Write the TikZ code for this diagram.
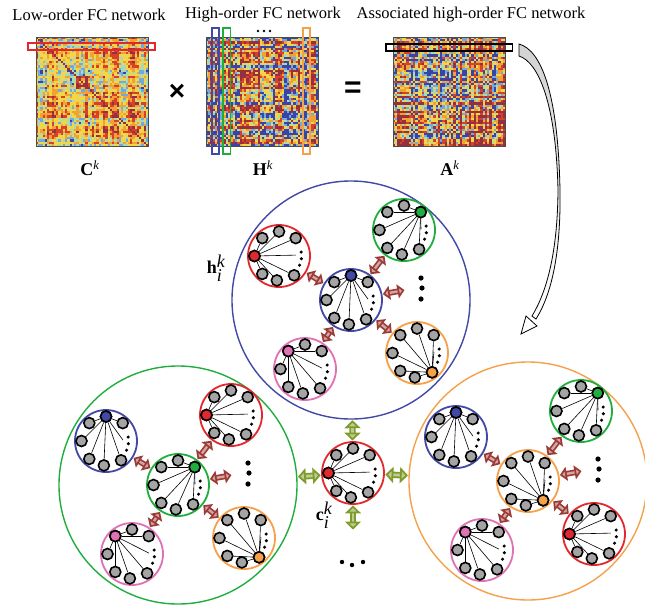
\documentclass[tikz,border=0pt]{standalone}
\usepackage{fontspec}
\setmainfont{Liberation Serif}
\setsansfont{Liberation Sans}
\usepackage{tikz}
\usetikzlibrary{arrows.meta, calc}

% ring colours
\definecolor{netred}{HTML}{E2282C}
\definecolor{netblue}{HTML}{4248A6}
\definecolor{netgreen}{HTML}{1FAE3E}
\definecolor{netpink}{HTML}{DE72B4}
\definecolor{netorange}{HTML}{F6A04A}
\definecolor{unitgray}{HTML}{A4A4A4}
\definecolor{linkred}{HTML}{9C3A35}
\definecolor{linkgreen}{HTML}{7E9B2C}
% heat map colours, low to high
\definecolor{hmA}{HTML}{3A44A8}
\definecolor{hmB}{HTML}{6FA9DD}
\definecolor{hmC}{HTML}{A9D9B5}
\definecolor{hmD}{HTML}{F1D54A}
\definecolor{hmE}{HTML}{F2A233}
\definecolor{hmF}{HTML}{D9402A}
\definecolor{hmG}{HTML}{963040}

% angle of the hub unit for each ring colour
\def\hubred{180}
\def\hubblue{90}
\def\hubgreen{47}
\def\hubpink{133}
\def\huborange{308}

\tikzset{
  ring/.style={circle, inner sep=0pt, minimum size=62pt, line width=1.8pt},
  bigring/.style={circle, inner sep=0pt, minimum size=238pt, line width=1.4pt},
  unit/.style={circle, inner sep=0pt, minimum size=11pt, draw=black, line width=1.6pt, fill=unitgray},
  spoke/.style={black, line width=0.6pt},
  link/.style={draw=linkred, line width=1.7pt, double=linkred!45, double distance=2.4pt,
    {Triangle[length=7pt,width=14pt,fill=linkred!45]}-{Triangle[length=7pt,width=14pt,fill=linkred!45]},
    shorten <=0.5pt, shorten >=0.5pt},
  glink/.style={draw=linkgreen, line width=1.8pt, double=linkgreen!50, double distance=2.8pt,
    {Triangle[length=8pt,width=16pt,fill=linkgreen!50]}-{Triangle[length=8pt,width=16pt,fill=linkgreen!50]},
    shorten <=0.5pt, shorten >=0.5pt},
  title/.style={font=\fontsize{16.5}{18}\selectfont},
  mlabel/.style={font=\fontsize{18}{20}\selectfont},
  frame/.style={draw=gray!60!black, line width=0.6pt},
  pick/.style={line width=1.3pt},
}

% colour of one heat map cell
\newcommand{\hmpick}[1]{%
  \ifdim#1pt<0.15pt \def\hmc{hmA}\else
  \ifdim#1pt<0.27pt \def\hmc{hmB}\else
  \ifdim#1pt<0.37pt \def\hmc{hmC}\else
  \ifdim#1pt<0.52pt \def\hmc{hmD}\else
  \ifdim#1pt<0.64pt \def\hmc{hmE}\else
  \ifdim#1pt<0.77pt \def\hmc{hmF}\else
  \def\hmc{hmG}\fi\fi\fi\fi\fi\fi}

% FC matrix: #1,#2 top left, #3 seed, #4 level, #5 spread, #6 noise, #7 diagonal + block
\newcommand{\fcmatrix}[7]{%
  \begin{scope}
    \clip (#1,-#2) rectangle ++(112,-109);
    \pgfmathsetseed{#3}
    \foreach \i in {0,...,49}{\pgfmathsetmacro\rowval{rnd}\expandafter\xdef\csname fcrow\i\endcsname{\rowval}}
    \foreach \i in {0,...,49}{
      \foreach \j in {0,...,49}{
        \pgfmathsetmacro\hmval{#4+#5*((\csname fcrow\i\endcsname+\csname fcrow\j\endcsname)/2-0.5)+#6*(rnd-0.5)}
        \ifnum#7=1
          \ifnum\i>17 \ifnum\i<24 \ifnum\j>17 \ifnum\j<24 \pgfmathsetmacro\hmval{\hmval+0.35}\fi\fi\fi\fi
          \ifnum\i=\j \def\hmval{0.85}\fi
        \fi
        \hmpick{\hmval}
        \fill[\hmc] ({#1+\j*2.24},{-#2-\i*2.18}) rectangle ++(2.5,-2.5);
      }
    }
  \end{scope}
  \draw[frame] (#1,-#2) rectangle ++(112,-109);
}

% small network: #1 name, #2 position, #3 ring colour
\newcommand{\subnet}[3]{%
  \edef\hubangle{\csname hub#3\endcsname}
  \node[ring, draw=net#3] (#1) at (#2) {};
  \foreach \a in {47,90,133,180,227,265,308}
    \node[unit] (#1-\a) at ([shift={(\a:24.5)}]#1.center) {};
  \node[unit, fill=net#3] (#1-hub) at ([shift={(\hubangle:24.5)}]#1.center) {};
  \foreach \a in {47,90,133,180,227,265,308}{
    \ifnum\a=\hubangle\relax\else
      \draw[spoke] (#1-hub) -- (#1-\a);
    \fi}
  \coordinate (#1-end) at ([shift={(3:17)}]#1.center);
  \draw[spoke] (#1-hub) -- (#1-end);
  \foreach \a in {10,-7,-24}
    \fill ([shift={(\a:22.5)}]#1.center) circle (1.7);
}

% group of networks: #1 name, #2 centre, #3 middle, #4 upper left, #5 upper right, #6 lower right
\newcommand{\cluster}[6]{%
  \node[bigring, draw=net#3] (#1) at (#2) {};
  \subnet{#1m}{#1.center}{#3}
  \subnet{#1ul}{[shift={(-72,44)}]#1.center}{#4}
  \subnet{#1ur}{[shift={(53,70)}]#1.center}{#5}
  \subnet{#1ll}{[shift={(-46,-69)}]#1.center}{pink}
  \subnet{#1lr}{[shift={(66,-53)}]#1.center}{#6}
  \coordinate (#1far) at ([shift={(54,10)}]#1.center);
  \foreach \n in {ul,ur,ll,lr}
    \draw[link] (#1m) -- (#1\n);
  \draw[link] (#1m) -- (#1far);
  \foreach \dx/\dy in {70/22,71/12,70/1}
    \fill ([shift={(\dx,\dy)}]#1.center) circle (2.6);
}

\begin{document}
\begin{tikzpicture}[x=1pt, y=1pt]
  \useasboundingbox (0,0) rectangle (645,-606);

  % titles
  \node[title] (tlow) at (89,-15) {Low-order FC network};
  \node[title] (thigh) at (263,-15) {High-order FC network};
  \node[title] (tass) at (471,-15) {Associated high-order FC network};

  % matrices
  \fcmatrix{36}{37}{7}{0.48}{0.7}{0.3}{1}
  \fcmatrix{206}{37}{23}{0.42}{1.4}{0.45}{0}
  \fcmatrix{393}{37}{41}{0.47}{1.35}{0.4}{0}

  % selected rows and columns
  \draw[pick, netred] (28,-43) rectangle (155,-50);
  \draw[pick, netblue] (212,-28) rectangle (219,-154);
  \draw[pick, netgreen] (223,-28) rectangle (230.5,-154);
  \draw[pick, netorange] (303,-28) rectangle (310,-154);
  \draw[pick, black] (386,-44) rectangle (512.5,-51);
  \foreach \x in {258,264,270}
    \fill (\x,-31) circle (1.3);

  % operators and labels
  \node[font=\sffamily\bfseries\fontsize{28}{30}\selectfont] (times) at (177,-92) {×};
  \node[font=\sffamily\bfseries\fontsize{30}{32}\selectfont] (equals) at (353,-90) {=};
  \node[mlabel] (lC) at (90,-168) {\textbf{C}\textsuperscript{\textit{k}}};
  \node[mlabel] (lH) at (263,-168) {\textbf{H}\textsuperscript{\textit{k}}};
  \node[mlabel] (lA) at (450,-168) {\textbf{A}\textsuperscript{\textit{k}}};

  % curved arrow down to the networks
  \draw[line width=0.8pt, top color=gray!35, bottom color=white]
    (519,-44) .. controls (541,-50) and (558,-92) .. (560,-190)
    .. controls (561,-255) and (551,-295) .. (536,-319)
    -- (532,-316)
    .. controls (546,-293) and (557.5,-255) .. (558,-190)
    .. controls (556,-102) and (538,-62) .. (519,-56) -- cycle;
  \draw[line width=0.8pt, fill=white] (526,-316) -- (537,-326) -- (521,-334) -- cycle;

  % groups of networks
  \cluster{B}{351,-300}{blue}{red}{green}{orange}
  \cluster{G}{178,-485}{green}{blue}{red}{orange}
  \cluster{O}{528,-481}{orange}{blue}{green}{red}

  % centre network
  \subnet{ci}{353,-473}{red}
  \coordinate (cdown) at (353,-530);
  \draw[glink] (B) -- (ci);
  \draw[glink] (G) -- (ci);
  \draw[glink] (O) -- (ci);
  \draw[glink] (ci) -- (cdown);

  \node[mlabel] (hlab) at (216,-268) {\textbf{h}$^{\textit{k}}_{\textit{i}}$};
  \node[mlabel] (clab) at (324,-515) {\textbf{c}$^{\textit{k}}_{\textit{i}}$};
  \fill (342,-562) circle (2.2) (352,-565) circle (2.2) (363,-562) circle (2.2);
\end{tikzpicture}
\end{document}
